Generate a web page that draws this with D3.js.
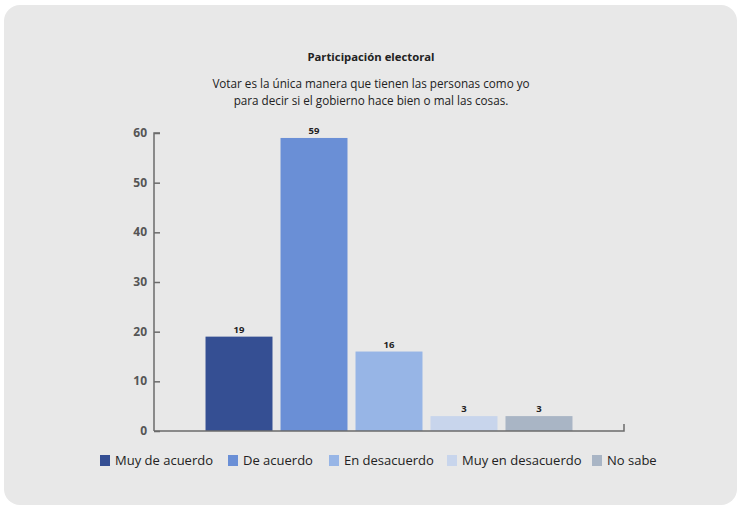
<!DOCTYPE html>
<html><head><meta charset="utf-8">
<script src="https://cdn.jsdelivr.net/npm/d3@7"></script>
<style>
html,body{margin:0;padding:0;background:#fff;}
svg{display:block;}
text{font-family:"Liberation Sans Narrow","Open Sans",sans-serif;}
</style></head>
<body>
<svg id="c" width="741" height="508"></svg>
<script>
const categories = ["Muy de acuerdo","De acuerdo","En desacuerdo","Muy en desacuerdo","No sabe"];
const values = [19, 59, 16, 3, 3];
const colors = ["#354f93","#6a8fd6","#97b5e6","#c8d5ec","#a9b5c5"];
const yTicks = [0,10,20,30,40,50,60];
const title = "Participación electoral";
const subtitle = ["Votar es la única manera que tienen las personas como yo","para decir si el gobierno hace bien o mal las cosas."];

const svg = d3.select("#c");
svg.append("rect").attr("x",4).attr("y",5).attr("width",733).attr("height",500).attr("rx",16).attr("fill","#e8e8e8");

const x0 = 154, x1 = 624, yBase = 431, yTop = 133;
const x = d3.scaleBand().domain(categories).range([x0,x1]).paddingInner(0.107).paddingOuter(0.687);
const y = d3.scaleLinear().domain([0,60]).range([yBase,yTop]);

svg.append("text").attr("x",371).attr("y",61).attr("text-anchor","middle")
  .attr("font-size",11.3).attr("font-weight","bold").attr("fill","#222").text(title);
subtitle.forEach((s,i)=>svg.append("text").attr("x",371).attr("y",88+i*17).attr("text-anchor","middle")
  .attr("font-size",11.7).attr("fill","#222").text(s));

// bars
svg.selectAll("rect.bar").data(values).enter().append("rect").attr("class","bar")
  .attr("x",(d,i)=>x(categories[i])).attr("width",x.bandwidth())
  .attr("y",d=>y(d)).attr("height",d=>yBase-y(d)).attr("fill",(d,i)=>colors[i]);
svg.selectAll("text.val").data(values).enter().append("text").attr("class","val")
  .attr("x",(d,i)=>x(categories[i])+x.bandwidth()/2).attr("y",d=>y(d)-4)
  .attr("text-anchor","middle").attr("font-size",9.5).attr("font-weight","bold").attr("fill","#222").text(d=>d);

// y axis
const ya = svg.append("g").attr("transform",`translate(${x0},0)`)
  .call(d3.axisRight(y).tickValues(yTicks).tickSize(6).tickFormat(""));
ya.select(".domain").attr("stroke","#6b6b6b").attr("stroke-width",1.5).attr("d",`M6,${yTop}H0V${yBase}`);
ya.selectAll(".tick line").attr("stroke","#6b6b6b").attr("stroke-width",1.5);
svg.selectAll("text.yt").data(yTicks).enter().append("text").attr("class","yt")
  .attr("x",x0-7).attr("y",d=>y(d)+4).attr("text-anchor","end")
  .attr("font-size",12).attr("font-weight","bold").attr("fill","#555").text(d=>d);

// x axis
const xa = svg.append("g").attr("transform",`translate(0,${yBase})`)
  .call(d3.axisBottom(x).tickSize(0).tickFormat(""));
xa.select(".domain").attr("stroke","#6b6b6b").attr("stroke-width",1.5).attr("d",`M${x0},0H${x1}V-7`);

// legend
const legX = [100,228,329,447,592];
const lg = svg.selectAll("g.leg").data(categories).enter().append("g").attr("class","leg")
  .attr("transform",(d,i)=>`translate(${legX[i]},455)`);
lg.append("rect").attr("width",10).attr("height",11).attr("fill",(d,i)=>colors[i]);
lg.append("text").attr("x",15).attr("y",10).attr("font-size",13).attr("fill","#222").text(d=>d);
</script>
</body></html>
